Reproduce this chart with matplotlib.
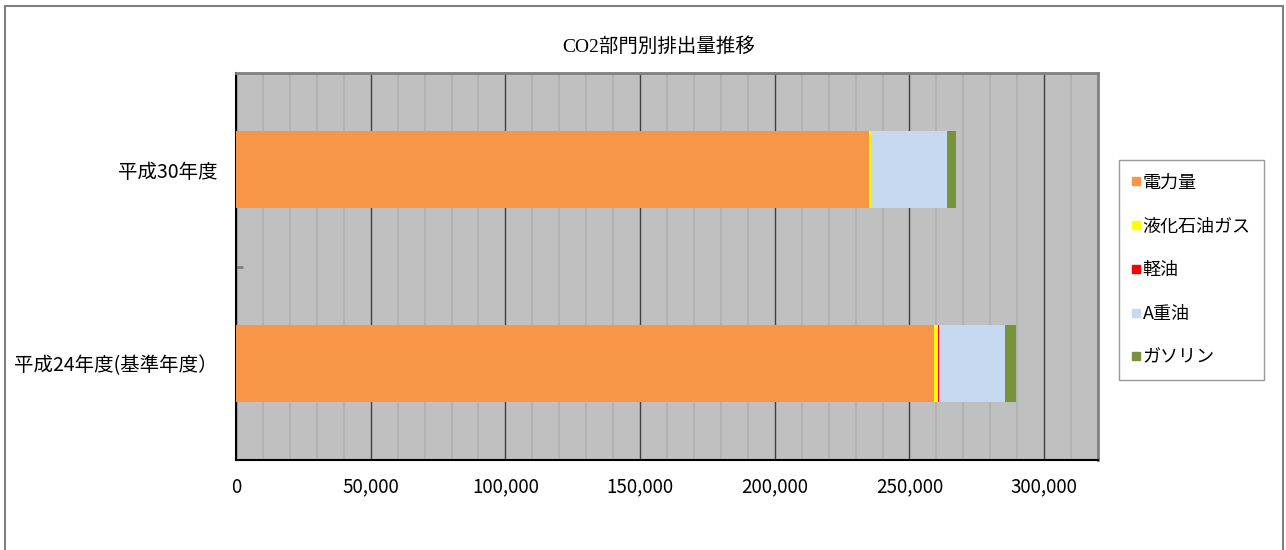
import matplotlib.pyplot as plt
from matplotlib.patches import Rectangle
from matplotlib.lines import Line2D
from matplotlib.ticker import MultipleLocator, FuncFormatter

plt.rcParams['font.family'] = ['Noto Sans CJK JP', 'DejaVu Sans']

# data
years = ['平成24年度(基準年度）', '平成30年度']
series = ['電力量', '液化石油ガス', '軽油', 'A重油', 'ガソリン']
values = {
    '電力量':       [259000, 235000],
    '液化石油ガス': [1500, 700],
    '軽油':         [300, 0],
    'A重油':        [24700, 28300],
    'ガソリン':     [4100, 3200],
}
colors = ['#F79646', '#FFFF00', '#FF0000', '#C6D9F1', '#77933C']

W, H = 1286, 550
fig = plt.figure(figsize=(W / 100, H / 100), dpi=100)

# outer chart border
fig.patches.append(Rectangle((5 / W, -0.05), 1278 / W, 1.05 - 6 / H,
                             transform=fig.transFigure, fill=False,
                             edgecolor='#808080', linewidth=1.5))

ax = fig.add_axes([236 / W, 1 - 460 / H, (1098 - 236) / W, (460 - 73) / H])
ax.set_facecolor('#C0C0C0')

ypos = list(range(len(years)))
left = [0] * len(years)
for name, c in zip(series, colors):
    ax.barh(ypos, values[name], left=left, height=0.4, color=c, label=name, zorder=3)
    left = [a + b for a, b in zip(left, values[name])]

ax.set_xlim(0, 320000)
ax.set_ylim(-0.5, 1.5)
ax.xaxis.set_major_locator(MultipleLocator(50000))
ax.xaxis.set_minor_locator(MultipleLocator(10000))
ax.xaxis.set_major_formatter(FuncFormatter(lambda v, p: f'{int(v):,}'))
ax.grid(which='major', axis='x', color='#404040', linewidth=1, zorder=1)
ax.grid(which='minor', axis='x', color='#B2B2B2', linewidth=1.5, zorder=0)
ax.set_axisbelow(True)

ax.set_yticks(ypos)
ax.set_yticklabels(years)
ax.set_yticks([0.5], minor=True)
ax.tick_params(axis='y', which='major', length=0, pad=13, labelsize=14)
ax.tick_params(axis='y', which='minor', direction='in', length=5, color='#808080', width=2)
ax.tick_params(axis='x', which='both', length=0, pad=12, labelsize=13.5)

for s in ['top', 'right']:
    ax.spines[s].set_color('#808080')
    ax.spines[s].set_linewidth(2)
ax.spines['left'].set_color('black')
ax.spines['bottom'].set_color('black')
ax.spines['left'].set_linewidth(1.5)
ax.spines['bottom'].set_linewidth(1.5)

fig.text(659 / W, 1 - 47 / H, 'CO2部門別排出量推移', ha='center', va='center',
         fontsize=14, family=['Liberation Serif', 'Noto Sans CJK JP'])

handles = [Line2D([], [], marker='s', linestyle='none', markersize=6,
                  markerfacecolor=c, markeredgecolor=c) for c in colors]
leg = fig.legend(handles, series, loc='upper left',
                 bbox_to_anchor=(1119 / W, 1 - 160 / H), bbox_transform=fig.transFigure,
                 fontsize=13, frameon=True, fancybox=False, edgecolor='#808080',
                 labelspacing=1.43, handlelength=0.4, handletextpad=0.15,
                 borderpad=0.75, borderaxespad=0)
leg.get_frame().set_linewidth(1)

fig.savefig('out.png', dpi=100)
